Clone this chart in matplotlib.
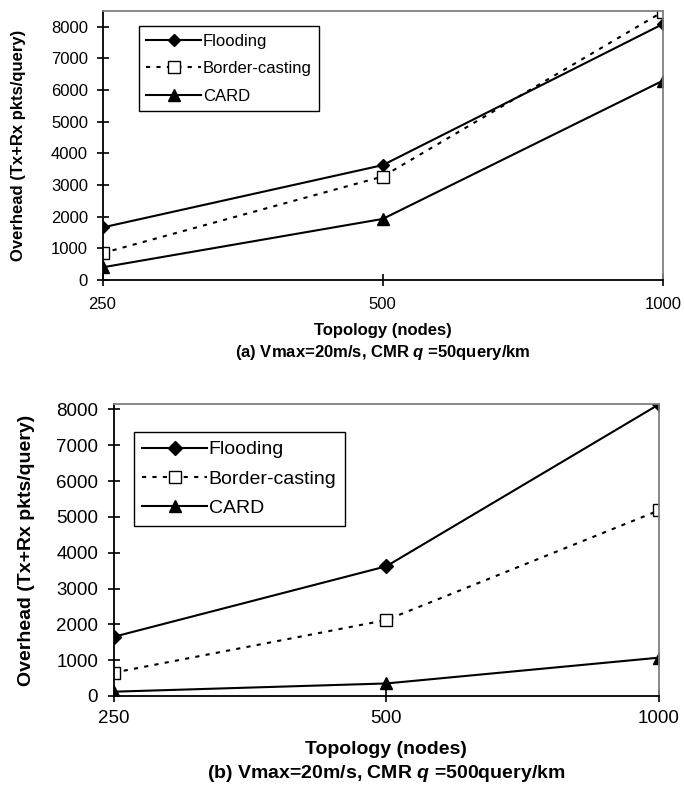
import matplotlib
matplotlib.use("Agg")
import matplotlib.pyplot as plt

plt.rcParams['font.family'] = ['Liberation Sans', 'DejaVu Sans']
plt.rcParams['mathtext.fontset'] = 'custom'
plt.rcParams['mathtext.it'] = 'Liberation Sans:bold:italic'
plt.rcParams['mathtext.rm'] = 'Liberation Sans:bold'

nodes = ['250', '500', '1000']
series = ['Flooding', 'Border-casting', 'CARD']

# (a) q = 50 query/km
flood_a = [1660, 3630, 8090]
border_a = [850, 3270, 8480]
card_a = [400, 1930, 6300]

# (b) q = 500 query/km
flood_b = [1650, 3620, 8140]
border_b = [650, 2120, 5180]
card_b = [120, 350, 1070]

captions = ['(a) Vmax=20m/s, CMR $q$ =50query/km',
            '(b) Vmax=20m/s, CMR $q$ =500query/km']

W, H = 684, 785
fig = plt.figure(figsize=(W / 100, H / 100), dpi=100)


def panel(rect, data, ymax, fs, lfs, leg_anchor, lspace, caption,
          ylab_x, xlab_y, cap_y, xpad, ypad, ms):
    ax = fig.add_axes(rect)
    x = list(range(len(nodes)))
    f, b, c = data
    ax.plot(x, f, color='black', lw=1.5, marker='D', ms=ms - 2, label=series[0])
    ax.plot(x, b, color='black', lw=1.5, ls=(0, (2, 3)), marker='s', ms=ms,
            mfc='white', mec='black', label=series[1])
    ax.plot(x, c, color='black', lw=1.5, marker='^', ms=ms, label=series[2])
    ax.set_xlim(0, 2)
    ax.set_ylim(0, ymax)
    ax.set_xticks(x)
    ax.set_xticklabels(nodes)
    ax.set_yticks(range(0, 8001, 1000))
    ax.tick_params(axis='both', direction='inout', length=8, width=1.2,
                   labelsize=fs)
    ax.tick_params(axis='x', pad=xpad)
    ax.tick_params(axis='y', pad=ypad)
    for s in ['left', 'bottom']:
        ax.spines[s].set_color('black')
        ax.spines[s].set_linewidth(1.3)
    for s in ['top', 'right']:
        ax.spines[s].set_color('#808080')
        ax.spines[s].set_linewidth(1.3)
    leg = ax.legend(loc='upper left', bbox_to_anchor=leg_anchor,
                    fontsize=lfs, handlelength=3.3, handletextpad=0.1,
                    borderaxespad=0, fancybox=False, framealpha=1,
                    edgecolor='black', labelspacing=lspace, borderpad=0.45)
    leg.get_frame().set_linewidth(1.0)
    cx = rect[0] + rect[2] / 2
    fig.text(ylab_x, rect[1] + rect[3] / 2, 'Overhead (Tx+Rx pkts/query)',
             rotation=90, ha='center', va='center', fontsize=lfs,
             fontweight='bold')
    fig.text(cx, xlab_y, 'Topology (nodes)', ha='center', va='center',
             fontsize=lfs, fontweight='bold')
    fig.text(cx, cap_y, caption, ha='center', va='center',
             fontsize=lfs, fontweight='bold')
    return ax


panel([102.5 / W, 1 - 280 / H, (663 - 102.5) / W, 269 / H],
      (flood_a, border_a, card_a), 8500, 12, 12, (0.065, 0.944), 0.75,
      captions[0], 19 / W, 1 - 330 / H, 1 - 352 / H, 8, 6.5, 8)
panel([113.5 / W, 1 - 696 / H, (659 - 113.5) / W, 292 / H],
      (flood_b, border_b, card_b), 8150, 13.5, 14, (0.037, 0.904), 0.6,
      captions[1], 27 / W, 1 - 750 / H, 1 - 773 / H, 6, 7, 9)

fig.savefig('out.png', dpi=100)
